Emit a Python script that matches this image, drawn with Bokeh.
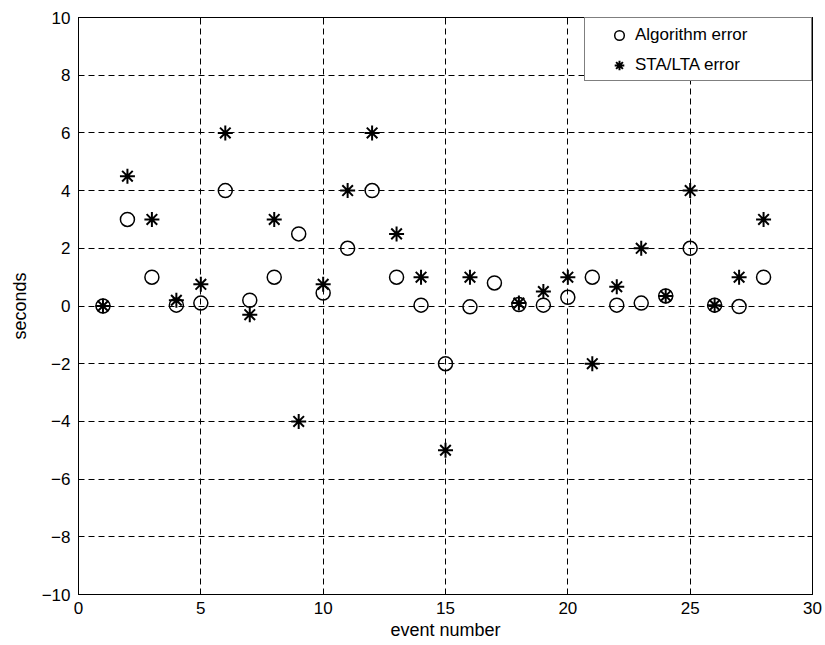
from bokeh.plotting import figure
from bokeh.models import (Range1d, FixedTicker, LinearAxis, Legend, LegendItem,
                          ColumnDataSource)
from bokeh.embed import file_html
from bokeh.resources import INLINE

# Picking error per event (seconds)
events = [1, 2, 3, 4, 5, 6, 7, 8, 9, 10, 11, 12, 13, 14,
          15, 16, 17, 18, 19, 20, 21, 22, 23, 24, 25, 26, 27, 28]
algorithm_error = [0, 3, 1, 0.03, 0.1, 4, 0.2, 1, 2.5, 0.45, 2, 4, 1, 0.03,
                   -2, -0.03, 0.8, 0.05, 0.03, 0.3, 1, 0.03, 0.1, 0.35, 2, 0.03, -0.02, 1]
sta_lta_error = [0, 4.5, 3, 0.2, 0.75, 6, -0.3, 3, -4, 0.75, 4, 6, 2.5, 1,
                 -5, 1, float("nan"), 0.1, 0.5, 1, -2, 0.67, 2, 0.35, 4, 0.03, 1, 3]

x_ticks = [0, 5, 10, 15, 20, 25, 30]
y_ticks = [-10, -8, -6, -4, -2, 0, 2, 4, 6, 8, 10]

FONT = "Liberation Sans"

src = ColumnDataSource(dict(x=events, alg=algorithm_error, sta=sta_lta_error))

p = figure(width=825, height=645, output_backend="svg", toolbar_location=None,
           x_range=Range1d(0, 30), y_range=Range1d(-10, 10),
           min_border_left=78, min_border_right=13, min_border_top=17,
           min_border_bottom=51)
p.background_fill_color = "white"
p.border_fill_color = "white"
p.outline_line_color = "black"
p.outline_line_width = 1

p.xaxis.ticker = FixedTicker(ticks=x_ticks)
p.yaxis.ticker = FixedTicker(ticks=y_ticks)
p.xaxis.axis_label = "event number"
p.yaxis.axis_label = "seconds"

for ax in (p.xaxis[0], p.yaxis[0]):
    ax.major_tick_in = 5
    ax.major_tick_out = 0
    ax.minor_tick_line_color = None
    ax.axis_line_color = "black"
    ax.major_tick_line_color = "black"
    ax.major_label_text_font = FONT
    ax.major_label_text_font_size = "17px"
    ax.major_label_text_color = "black"
    ax.axis_label_text_font = FONT
    ax.axis_label_text_font_size = "18px"
    ax.axis_label_text_font_style = "normal"
    ax.axis_label_text_color = "black"

p.xaxis.major_label_standoff = 7
p.xaxis.axis_label_standoff = 3
p.yaxis.major_label_standoff = 8
p.yaxis.axis_label_standoff = 9

# tick marks on the top and right frame edges (no labels)
for loc, ticks in (("above", x_ticks), ("right", y_ticks)):
    ax = LinearAxis(ticker=FixedTicker(ticks=ticks), major_tick_in=5, major_tick_out=0,
                    minor_tick_line_color=None, major_label_text_color=None,
                    major_label_text_font_size="1px", major_label_standoff=0,
                    axis_line_color="black")
    p.add_layout(ax, loc)

for g in (p.xgrid[0], p.ygrid[0]):
    g.grid_line_color = "black"
    g.grid_line_dash = "6 4"
    g.grid_line_width = 1
p.xgrid.ticker = FixedTicker(ticks=x_ticks)
p.ygrid.ticker = FixedTicker(ticks=y_ticks)

r_alg = p.scatter("x", "alg", source=src, marker="circle", size=14,
                  fill_color=None, line_color="black", line_width=1.5)
r_sta = p.scatter("x", "sta", source=src, marker="asterisk", size=15,
                  line_color="black", line_width=2)

legend = Legend(items=[LegendItem(label="Algorithm error", renderers=[r_alg]),
                       LegendItem(label="STA/LTA error", renderers=[r_sta])],
                location="top_right", margin=0, spacing=6,
                glyph_width=32, glyph_height=24, label_height=24,
                label_standoff=0, label_width=170,
                label_text_font=FONT, label_text_font_size="17px",
                label_text_color="black",
                border_line_color="black", border_line_width=1,
                background_fill_color="white", background_fill_alpha=1)
try:
    legend.padding = dict(left=18, right=6, top=5, bottom=3)
except Exception:
    legend.padding = 5
p.add_layout(legend, "center")

open("out.html", "w").write(file_html(p, INLINE))
